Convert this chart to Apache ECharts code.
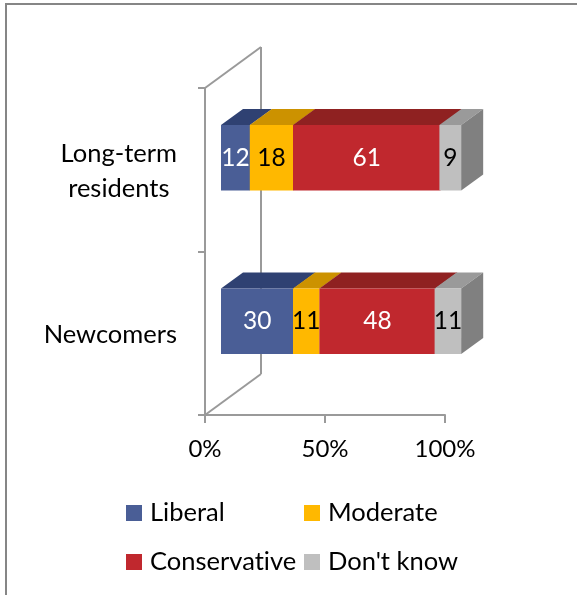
<!DOCTYPE html>
<html>
<head>
<meta charset="utf-8">
<script src="https://cdn.jsdelivr.net/npm/echarts@6/dist/echarts.min.js"></script>
<style>
html,body{margin:0;padding:0;background:#fff;}
#chart{width:577px;height:595px;}
</style>
</head>
<body>
<div id="chart"></div>
<script>
// ---- data ----
const categories = ['Newcomers', 'Long-term residents'];
const seriesNames = ['Liberal', 'Moderate', 'Conservative', "Don't know"];
const liberal = [30, 12];
const moderate = [11, 18];
const conservative = [48, 61];
const dontKnow = [11, 9];
const xTickLabels = ['0%', '50%', '100%'];

// ---- styles ----
const FONT = 'Lato';
const frontColors = ['#4A5E96', '#FFB800', '#C0282E', '#BFBFBF'];
const topColors = ['#2F4172', '#CC9200', '#8F2121', '#9A9A9A'];
const sideColor = '#808080';
const labelColors = ['#ffffff', '#000000', '#ffffff', '#000000'];
const axisColor = '#9A9A9A';

const values = [liberal, moderate, conservative, dontKnow];
// build stacked start/end rows
const stackedRows = values.map(() => []);
categories.forEach((c, ci) => {
  let acc = 0;
  values.forEach((arr, si) => {
    stackedRows[si].push([acc, acc + arr[ci], ci, arr[ci]]);
    acc += arr[ci];
  });
});

const BAR_DX = 16, BAR_DY = -12;   // front face offset inside depth
const DEPTH_DX = 22, DEPTH_DY = -16; // bar depth
const WALL_DX = 56, WALL_DY = -41;   // frame depth

function makeRender(si, isLast) {
  return function (params, api) {
    const start = api.value(0), end = api.value(1), cat = api.value(2), val = api.value(3);
    const p0 = api.coord([start, cat]);
    const p1 = api.coord([end, cat]);
    const band = api.size([0, 1])[1];
    const h = band * 0.4;
    const x = p0[0] + BAR_DX;
    const w = (p1[0] - p0[0]) * 1.008;
    const y = p0[1] + BAR_DY - h / 2;
    const children = [
      { type: 'polygon', shape: { points: [[x, y], [x + w, y], [x + w + DEPTH_DX, y + DEPTH_DY], [x + DEPTH_DX, y + DEPTH_DY]] },
        style: { fill: topColors[si] } },
      { type: 'rect', shape: { x: x, y: y, width: w, height: h }, style: { fill: frontColors[si] } }
    ];
    if (isLast) {
      children.push({ type: 'polygon', shape: { points: [[x + w, y], [x + w + DEPTH_DX, y + DEPTH_DY], [x + w + DEPTH_DX, y + h + DEPTH_DY], [x + w, y + h]] },
        style: { fill: sideColor } });
    }
    children.push({ type: 'text', style: { text: String(val), x: x + w / 2, y: y + h / 2, align: 'center', verticalAlign: 'middle',
      fill: labelColors[si], font: '24.5px ' + FONT } });
    return { type: 'group', children: children };
  };
}

const barSeries = seriesNames.map((name, si) => ({
  name: name,
  type: 'custom',
  renderItem: makeRender(si, si === seriesNames.length - 1),
  encode: { x: [0, 1], y: 2 },
  data: stackedRows[si],
  itemStyle: { color: frontColors[si] },
  z: 3
}));

const frameSeries = {
  name: 'frame',
  type: 'custom',
  silent: true,
  z: 1,
  encode: { x: 0, y: 1 },
  data: [[0, 0]],
  renderItem: function (params, api) {
    const cs = params.coordSys;
    const l = cs.x, t = cs.y, b = cs.y + cs.height;
    const st = { stroke: axisColor, lineWidth: 2 };
    return { type: 'group', children: [
      { type: 'line', shape: { x1: l, y1: t, x2: l + WALL_DX, y2: t + WALL_DY }, style: st },
      { type: 'line', shape: { x1: l + WALL_DX, y1: t + WALL_DY, x2: l + WALL_DX, y2: b + WALL_DY }, style: st },
      { type: 'line', shape: { x1: l, y1: b, x2: l + WALL_DX, y2: b + WALL_DY }, style: st }
    ] };
  }
};

// one legend entry per component so the columns line up like the original
const legendLefts = [126, 304, 126, 304];
const legendTops = [500, 500, 549, 549];
const legends = seriesNames.map((name, i) => ({
  data: [name], orient: 'horizontal', left: legendLefts[i], top: legendTops[i], padding: 0,
  itemWidth: 16, itemHeight: 16, icon: 'rect',
  // zero-width non-joiner avoids the font's "ti" ligature
  formatter: function (n) { return n.replace('ti', 't\u200Ci'); },
  textStyle: { fontFamily: FONT, fontSize: 25.5, color: '#000', padding: [0, 0, 0, 3] }
}));

const chart = echarts.init(document.getElementById('chart'), null, { renderer: 'canvas' });
chart.setOption({
  animation: false,
  backgroundColor: '#ffffff',
  graphic: [{ type: 'rect', shape: { x: 6, y: 4, width: 620, height: 640 }, style: { fill: 'none', stroke: '#868686', lineWidth: 2 }, z: 10 }],
  grid: { left: 205, right: 132, top: 88, bottom: 180, containLabel: false },
  xAxis: {
    type: 'value', min: 0, max: 100, interval: 50,
    axisLine: { show: true, lineStyle: { color: axisColor, width: 2 } },
    axisTick: { show: true, length: 8, lineStyle: { color: axisColor, width: 2 } },
    splitLine: { show: false },
    axisLabel: { margin: 22, fontFamily: FONT, fontSize: 24, color: '#000',
      formatter: function (v) { return xTickLabels[Math.round(v / 50)]; } }
  },
  yAxis: {
    type: 'category', data: categories,
    axisLine: { show: true, lineStyle: { color: axisColor, width: 2 } },
    axisTick: { show: true, length: 7, lineStyle: { color: axisColor, width: 2 } },
    splitLine: { show: false },
    axisLabel: {
      margin: 28, align: 'right', fontFamily: FONT, fontSize: 25.5, color: '#000',
      formatter: function (v) {
        if (v === 'Long-term residents') return '{c|Long-term}\n{c|residents}';
        return '{c|' + v + '}';
      },
      rich: { c: { align: 'center', fontFamily: FONT, fontSize: 25.5, color: '#000', lineHeight: 35, padding: [4, 0, 0, 0] } }
    }
  },
  legend: legends,
  series: [frameSeries].concat(barSeries)
});
</script>
</body>
</html>
